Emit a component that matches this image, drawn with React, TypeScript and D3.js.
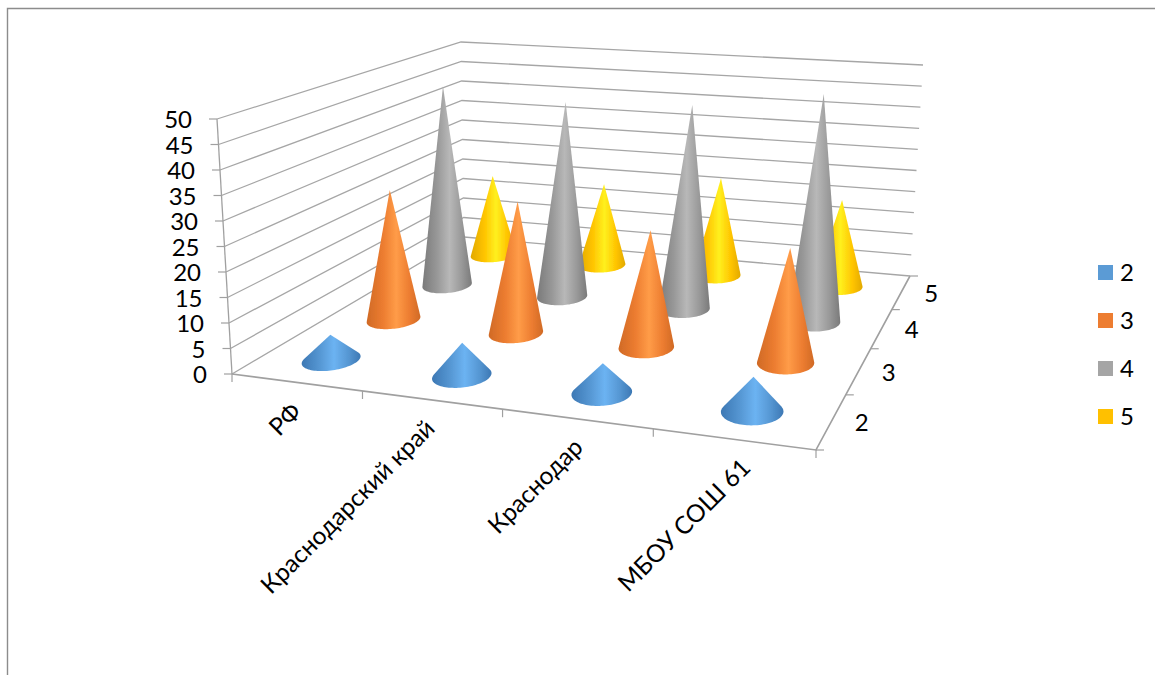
import React from "react";
import * as d3 from "d3";

const categories = ["РФ", "Краснодарский край", "Краснодар", "МБОУ СОШ 61"];
const seriesNames = ["2", "3", "4", "5"];
const values2 = [5, 6.4, 5.6, 6.3];
const values3 = [28, 27.7, 24, 22.8];
const values4 = [46, 44, 45, 49];
const values5 = [19.5, 19.5, 23, 20];
const seriesValues = [values2, values3, values4, values5];
const yTicks = [0, 5, 10, 15, 20, 25, 30, 35, 40, 45, 50];

const legendColors = ["#5b9bd5", "#ed7d31", "#a5a5a5", "#ffc000"];
const coneStops = [
  ["#3d78b4", "#5596d2", "#6cb3f2"],
  ["#d06a26", "#ec7c30", "#ff9c48"],
  ["#7a7a7a", "#989898", "#b8b8b8"],
  ["#e2a900", "#ffc400", "#fff01e"],
];

type P = [number, number];
const floorQuad: P[] = [[232, 374], [816, 450], [910, 276], [464, 237]];
const topQuad: P[] = [[217, 119], [830, 156], [923, 65], [461, 42]];

function homography(q: P[]) {
  const [[x0, y0], [x1, y1], [x2, y2], [x3, y3]] = q;
  const dx1 = x1 - x2, dx2 = x3 - x2, sx = x0 - x1 + x2 - x3;
  const dy1 = y1 - y2, dy2 = y3 - y2, sy = y0 - y1 + y2 - y3;
  const den = dx1 * dy2 - dx2 * dy1;
  const g = (sx * dy2 - dx2 * sy) / den;
  const h = (dx1 * sy - sx * dy1) / den;
  const a = x1 - x0 + g * x1, b = x3 - x0 + h * x3;
  const d = y1 - y0 + g * y1, e = y3 - y0 + h * y3;
  return (u: number, v: number): P => {
    const w = g * u + h * v + 1;
    return [(a * u + b * v + x0) / w, (d * u + e * v + y0) / w];
  };
}
const floorH = homography(floorQuad);
const topH = homography(topQuad);
const hScale = d3.scaleLinear().domain([0, 50]).range([0, 1]);
const uScale = d3.scaleBand<number>().domain([0, 1, 2, 3]).range([0, 1]);
const vScale = d3.scaleBand<number>().domain([0, 1, 2, 3]).range([0, 1]);

function project(u: number, v: number, val: number): P {
  const a = floorH(u, v), b = topH(u, v), t = hScale(val);
  return [a[0] + (b[0] - a[0]) * t, a[1] + (b[1] - a[1]) * t];
}
const line = d3.line();
const RU = 0.048, RV = 0.062;
const LEAN = -0.016;
const angles = d3.range(0, Math.PI * 2, Math.PI / 48);

function conePath(i: number, j: number, val: number) {
  const cu = uScale(i)! + uScale.bandwidth() / 2;
  const cv = vScale(j)! + vScale.bandwidth() / 2;
  const pts = angles.map((t) => floorH(cu + RU * Math.cos(t), cv + RV * Math.sin(t)));
  const base = floorH(cu, cv);
  const apex = project(cu, cv, val);
  const hull = d3.polygonHull([...pts, [apex[0] + LEAN * (base[1] - apex[1]), apex[1]] as P])!;
  return line(hull) + "Z";
}

const GRID = "#a6a6a6";
const AXIS = "#a0a0a0";
const FONT = "Lato, Carlito, sans-serif";
const labelOffset: P = [5, 30];
const labelNudge: P[] = [[2, 1], [0, 0], [3, 0], [14, 0]];

export default function App() {
  const order: [number, number][] = [];
  for (let j = 3; j >= 0; j--) for (let i = 0; i < 4; i++) order.push([i, j]);
  return (
    <svg width={1155} height={675} style={{ position: "absolute", left: 0, top: 0, background: "#fff" }}>
      <defs>
        <filter id="soft" x="-5%" y="-5%" width="110%" height="110%">
          <feGaussianBlur stdDeviation="0.45" />
        </filter>
        {coneStops.map((c, j) => (
          <linearGradient key={j} id={`cone${j}`} x1="0" x2="1" y1="0" y2="0">
            <stop offset="0" stopColor={c[0]} />
            <stop offset="0.3" stopColor={c[1]} />
            <stop offset="0.55" stopColor={c[2]} />
            <stop offset="0.8" stopColor={c[1]} />
            <stop offset="1" stopColor={c[0]} />
          </linearGradient>
        ))}
      </defs>
      <path d="M7.5 675V8.5H1155" fill="none" stroke="#8c8c8c" strokeWidth={1.4} />
      {yTicks.map((t) => (
        <path key={t} d={line([project(0, 0, t), project(0, 1, t), project(1, 1, t)])!} fill="none" stroke={GRID} strokeWidth={1.3} />
      ))}
      <path d={line([project(0, 0, 0), project(0, 0, 50)])!} stroke={AXIS} strokeWidth={1.3} fill="none" />
      <path d={line([floorQuad[0], floorQuad[1], floorQuad[2]])!} stroke={AXIS} strokeWidth={1.6} fill="none" />
      {yTicks.map((t) => {
        const p = project(0, 0, t);
        return (
          <g key={t}>
            <path d={line([[p[0] - 8, p[1]], p])!} stroke={AXIS} strokeWidth={1.2} />
            <text x={p[0] - 25} y={p[1] + 9} textAnchor="end" fontFamily={FONT} fontSize={24} fill="#000">{t}</text>
          </g>
        );
      })}
      {[0, 1, 2, 3, 4].map((i) => {
        const p = floorH(i / 4, 0);
        return <path key={i} d={line([p, [p[0], p[1] + 8]])!} stroke={AXIS} strokeWidth={1.2} />;
      })}
      {[0, 1, 2, 3, 4].map((j) => {
        const p = floorH(1, j / 4);
        return <path key={j} d={line([p, [p[0] + 8, p[1]]])!} stroke={AXIS} strokeWidth={1.2} />;
      })}
      {categories.map((c, i) => {
        const p = floorH(uScale(i)! + uScale.bandwidth() / 2, 0);
        const x = p[0] + labelOffset[0] + labelNudge[i][0], y = p[1] + labelOffset[1] + labelNudge[i][1];
        return (
          <text key={c} transform={`translate(${x},${y}) rotate(-45)`} textAnchor="end" fontFamily={FONT} fontSize={24.5} fill="#000">{c}</text>
        );
      })}
      {seriesNames.map((s, j) => {
        const p = floorH(1, vScale(j)! + vScale.bandwidth() / 2);
        return (
          <text key={s} x={p[0] + 30} y={p[1] + 10} textAnchor="middle" fontFamily={FONT} fontSize={24} fill="#000">{s}</text>
        );
      })}
      <g filter="url(#soft)">
        {order.map(([i, j]) => (
          <path key={`${i}-${j}`} d={conePath(i, j, seriesValues[j][i])} fill={`url(#cone${j})`} />
        ))}
      </g>
      {seriesNames.map((s, j) => (
        <g key={s} transform={`translate(1098,${265 + j * 48})`}>
          <rect width={15} height={15} fill={legendColors[j]} />
          <text x={22} y={16} fontFamily={FONT} fontSize={24} fill="#000">{s}</text>
        </g>
      ))}
    </svg>
  );
}
